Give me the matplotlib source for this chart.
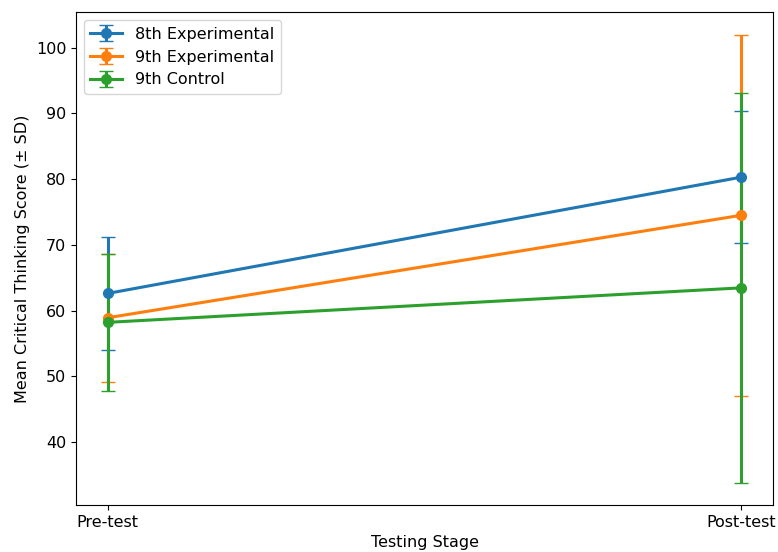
import matplotlib
matplotlib.use("Agg")
import matplotlib.pyplot as plt

plt.rcParams["font.size"] = 11.5

stages = ["Pre-test", "Post-test"]
groups = ["8th Experimental", "9th Experimental", "9th Control"]
means = {
    "8th Experimental": [62.6, 80.3],
    "9th Experimental": [58.9, 74.5],
    "9th Control": [58.2, 63.45],
}
sds = {
    "8th Experimental": [8.65, 10.05],
    "9th Experimental": [9.75, 27.5],
    "9th Control": [10.4, 29.65],
}

fig = plt.figure(figsize=(7.78, 5.52), dpi=100)
ax = fig.add_axes([0.0977, 0.085, 0.8959, 0.893])
x = list(range(len(stages)))
for g in groups:
    ax.errorbar(x, means[g], yerr=sds[g], marker="o", markersize=7, linewidth=2.2,
                capsize=5, label=g)
ax.set_xticks(x)
ax.set_xticklabels(stages)
ax.set_xlabel("Testing Stage")
ax.set_ylabel("Mean Critical Thinking Score (± SD)")
ax.legend(loc="upper left")
fig.savefig("out.png", dpi=100)
